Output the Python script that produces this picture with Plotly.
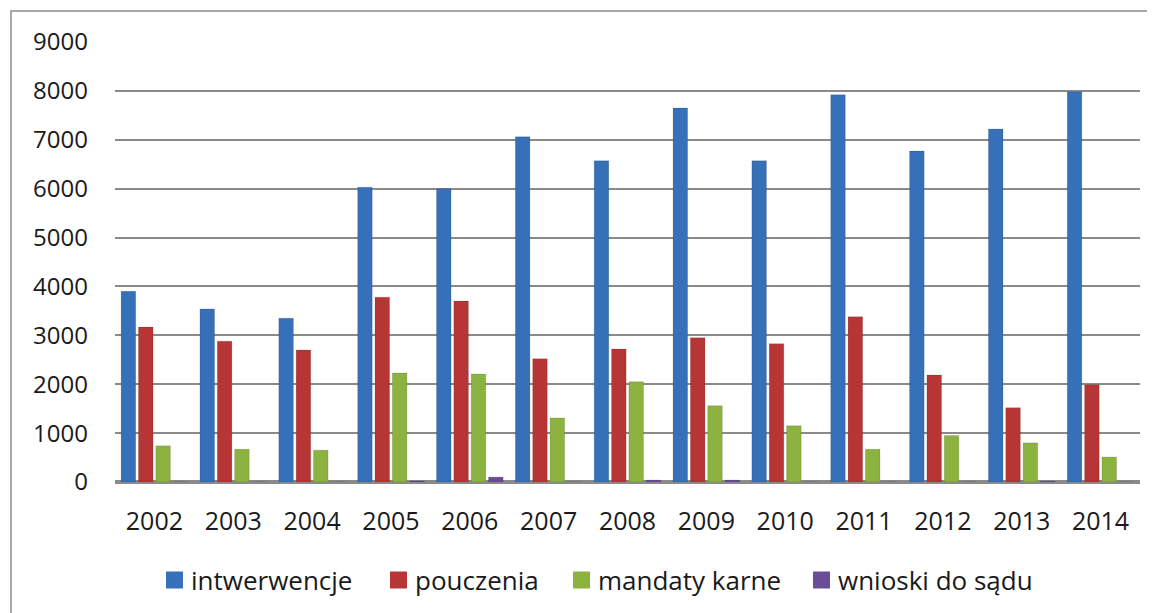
import plotly.graph_objects as go

years = ["2002", "2003", "2004", "2005", "2006", "2007", "2008",
         "2009", "2010", "2011", "2012", "2013", "2014"]
interwencje = [3900, 3540, 3350, 6030, 6000, 7060, 6570, 7650, 6570, 7920, 6770, 7220, 7980]
pouczenia = [3170, 2880, 2700, 3780, 3700, 2520, 2720, 2950, 2830, 3380, 2190, 1520, 1990]
mandaty = [740, 670, 650, 2230, 2210, 1310, 2050, 1560, 1150, 670, 950, 800, 510]
wnioski = [0, 0, 0, 20, 100, 0, 40, 40, 0, 0, 0, 15, 0]

names = ["intwerwencje", "pouczenia", "mandaty karne", "wnioski do sądu"]
colors = ["#3670B8", "#B83535", "#8CB23F", "#6B4C98"]
series = [interwencje, pouczenia, mandaty, wnioski]

W, H = 1155, 613
OFF = 8  # page body margin in the browser
# desired plot area in page pixels: x 115..1140, y 42..482
l = 115 - OFF
t = 42 - OFF
r = W - (1140 - OFF)
b = H - (482 - OFF)
pw, ph = W - l - r, H - t - b

def px_to_paper_x(x):
    return (x - OFF - l) / pw

def px_to_paper_y(y):
    return (H - b - (y - OFF)) / ph

fig = go.Figure()
for name, vals, col in zip(names, series, colors):
    fig.add_trace(go.Bar(
        x=years, y=vals, name=name, showlegend=False,
        marker=dict(color=col, line=dict(color="rgba(0,0,0,0.12)", width=1)),
    ))

# outer border
fig.add_shape(type="rect", xref="paper", yref="paper",
              x0=px_to_paper_x(11), x1=px_to_paper_x(1175),
              y0=px_to_paper_y(650), y1=px_to_paper_y(11),
              line=dict(color="#8c8c8c", width=1.5), fillcolor="rgba(0,0,0,0)",
              layer="below")

# custom legend (square markers + labels)
legend_sq_x = [166, 390, 573, 813]
legend_y = 580
sq = 17
for name, col, sx in zip(names, colors, legend_sq_x):
    fig.add_shape(type="rect", xref="paper", yref="paper",
                  x0=px_to_paper_x(sx), x1=px_to_paper_x(sx + sq),
                  y0=px_to_paper_y(legend_y + sq / 2), y1=px_to_paper_y(legend_y - sq / 2),
                  line=dict(width=0), fillcolor=col)
    fig.add_annotation(xref="paper", yref="paper",
                       x=px_to_paper_x(sx + sq + 6), y=px_to_paper_y(legend_y),
                       xanchor="left", yanchor="middle", showarrow=False,
                       text=name, font=dict(size=26, color="#1a1a1a"))

fig.update_layout(
    width=W, height=H,
    margin=dict(l=l, r=r, t=t, b=b, autoexpand=False),
    paper_bgcolor="white", plot_bgcolor="white",
    barmode="group", bargap=0.12, bargroupgap=0.16,
    font=dict(family="Open Sans", size=24, color="#1a1a1a"),
    showlegend=False,
    xaxis=dict(showgrid=False, showline=False, zeroline=False,
               ticks="", ticklabelstandoff=22, tickfont=dict(size=25)),
    yaxis=dict(range=[0, 9000], dtick=1000, showgrid=True,
               gridcolor="#8a8a8a", gridwidth=1.5,
               zeroline=True, zerolinecolor="#8a8a8a", zerolinewidth=3.5,
               showline=False, ticks="", ticklabelstandoff=26,
               tickfont=dict(size=24)),
)

fig.write_html("out.html")
